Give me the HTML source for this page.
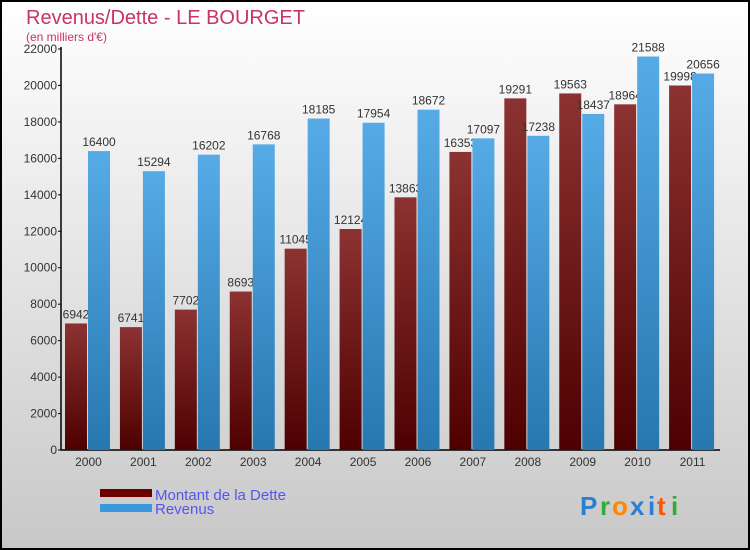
<!DOCTYPE html>
<html><head><meta charset="utf-8"><style>
body{margin:0}
svg{display:block;font-family:"Liberation Sans",sans-serif}
</style></head><body>
<svg id="c" width="750" height="550" xmlns="http://www.w3.org/2000/svg">
<defs>
<linearGradient id="bg" x1="0" y1="0" x2="0" y2="1"><stop offset="0" stop-color="#ffffff"/><stop offset="1" stop-color="#c8c8c8"/></linearGradient>
<linearGradient id="gd" x1="0" y1="0" x2="0" y2="1"><stop offset="0" stop-color="#8c3232"/><stop offset="1" stop-color="#4e0000"/></linearGradient>
<linearGradient id="gr" x1="0" y1="0" x2="0" y2="1"><stop offset="0" stop-color="#56abe6"/><stop offset="1" stop-color="#2777b0"/></linearGradient>
</defs>
<rect x="1" y="1" width="748" height="548" fill="url(#bg)" stroke="#000" stroke-width="2"/>
<text x="26" y="24" font-size="20" fill="#c8336a">Revenus/Dette - LE BOURGET</text>
<text x="26" y="41" font-size="12" fill="#c8336a">(en milliers d'€)</text>
<g id="axes"></g>
<g id="bars"></g>
<rect x="100" y="489" width="52" height="8" fill="#6a0000"/>
<text x="155" y="500" font-size="15" fill="#5555ee">Montant de la Dette</text>
<rect x="100" y="504" width="52" height="8" fill="#3a98dd"/>
<text x="155" y="514" font-size="15" fill="#5555ee">Revenus</text>
<g font-size="26" font-weight="bold">
<text x="580" y="515" fill="#2a7fd0">P</text><text x="600" y="515" fill="#33aa33">r</text><text x="612" y="515" fill="#ff8800">o</text><text x="630" y="515" fill="#2a7fd0">x</text><text x="648" y="515" fill="#2a7fd0">i</text><text x="657" y="515" fill="#ff5500">t</text><text x="671" y="515" fill="#33aa33">i</text>
</g>
</svg>
<script>
const years=["2000","2001","2002","2003","2004","2005","2006","2007","2008","2009","2010","2011"];
const dette=[6942,6741,7702,8693,11045,12124,13863,16353,19291,19563,18964,19998];
const revenus=[16400,15294,16202,16768,18185,17954,18672,17097,17238,18437,21588,20656];
const ticks=[0,2000,4000,6000,8000,10000,12000,14000,16000,18000,20000,22000];
const NS="http://www.w3.org/2000/svg";
const x0=61,x1=720,y0=450,y1=49,maxV=22000;
const y=v=>y0-(v/maxV)*(y0-y1);
const step=(x1-x0)/years.length;
const ax=document.getElementById('axes'),bg=document.getElementById('bars');
function mk(p,tag,a){const e=document.createElementNS(NS,tag);for(const k in a)e.setAttribute(k,a[k]);p.appendChild(e);return e;}
let l=mk(ax,'line',{x1:x0,y1:y1-2,x2:x0,y2:y0,stroke:'#000','stroke-width':1.5});


l=mk(ax,'line',{x1:x0,y1:y0,x2:x1,y2:y0,stroke:'#000','stroke-width':1.5});


ticks.forEach(t=>{
  const tk=mk(ax,'line',{x1:x0-3,y1:y(t),x2:x0,y2:y(t),stroke:'#000'});
  
  
  const tx=mk(ax,'text',{x:x0-4,y:y(t)+4,'font-size':12,fill:'#333','text-anchor':'end'});
  tx.textContent=t;
  
  
});
years.forEach((yr,i)=>{
  const cx=x0+step*i+step/2;
  const tx=mk(ax,'text',{x:cx,y:y0+16,'font-size':12,fill:'#333','text-anchor':'middle'});
  tx.textContent=yr;
  
  
  const bw=22,bx=x0+step*i+4;
  const d=mk(bg,'rect',{x:bx,y:y(dette[i]),width:bw,height:y0-y(dette[i]),fill:'url(#gd)'});
  
  
  const dl=mk(bg,'text',{x:bx+bw/2,y:y(dette[i])-5,'font-size':12,fill:'#333','text-anchor':'middle'});
  dl.textContent=dette[i];
  
  
  const r=mk(bg,'rect',{x:bx+bw+1,y:y(revenus[i]),width:bw,height:y0-y(revenus[i]),fill:'url(#gr)'});
  
  
  const rl=mk(bg,'text',{x:bx+bw+1+bw/2,y:y(revenus[i])-5,'font-size':12,fill:'#333','text-anchor':'middle'});
  rl.textContent=revenus[i];
  
  
});
</script>
</body></html>
